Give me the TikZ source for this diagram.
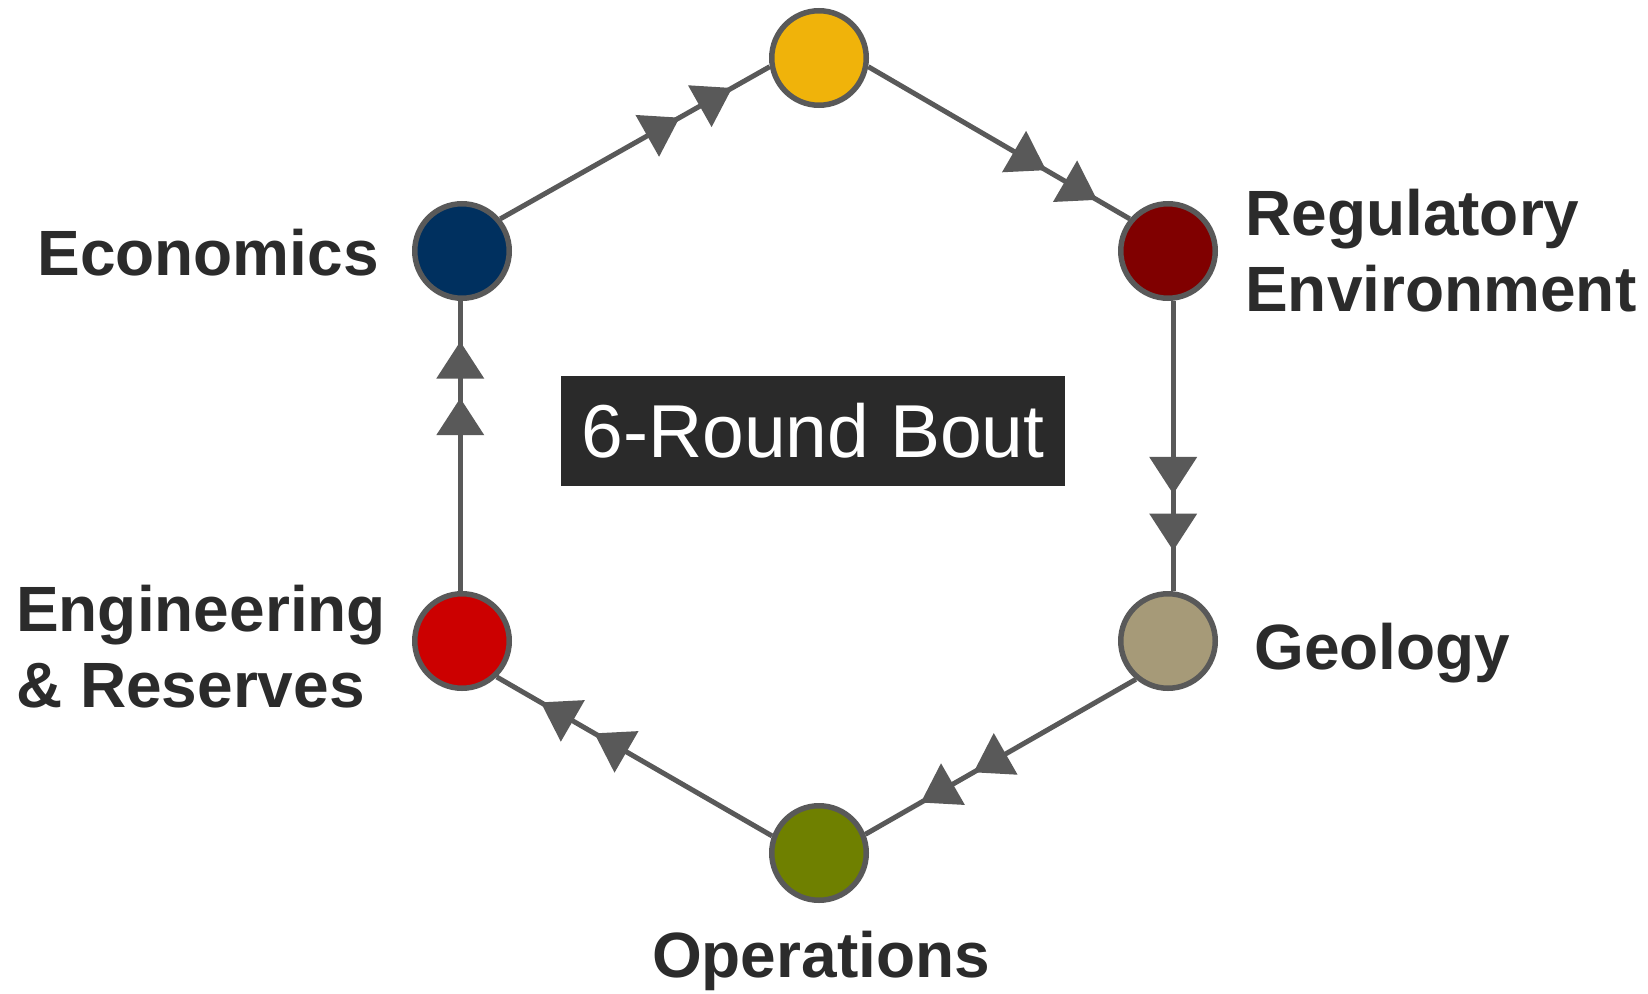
\documentclass[tikz,border=0pt]{standalone}
\usepackage{fontspec}
\setmainfont{Liberation Sans}
\usetikzlibrary{decorations.markings}
\definecolor{lg}{HTML}{595959}
\definecolor{txt}{HTML}{2B2B2B}
\definecolor{boxc}{HTML}{2A2A2A}
\definecolor{cyel}{HTML}{F0B30A}
\definecolor{cnavy}{HTML}{00305F}
\definecolor{cmaroon}{HTML}{800000}
\definecolor{cred}{HTML}{CC0000}
\definecolor{ctan}{HTML}{A69A78}
\definecolor{colive}{HTML}{6F8000}
\begin{document}
\begin{tikzpicture}[x=1pt,y=1pt,
  hub/.style={circle, draw=lg, line width=5.5pt, minimum size=94.5pt, inner sep=0pt},
  lab/.style={font=\bfseries\fontsize{64}{76}\selectfont, text=txt, inner sep=0pt},
  flow/.style 2 args={draw=lg, line width=5pt, postaction={decorate},
    decoration={markings,
      mark=at position #1 with {\fill[lg] (0pt,0pt) -- (-37pt,24pt) -- (-37pt,-24pt) -- cycle;},
      mark=at position #2 with {\fill[lg] (0pt,0pt) -- (-37pt,24pt) -- (-37pt,-24pt) -- cycle;}}}
]
\useasboundingbox (0,0) rectangle (1648,-993);
% circles
\node[hub, fill=cyel] (top) at (819,-58) {};
\node[hub, fill=cnavy] (econ) at (462,-251) {};
\node[hub, fill=cmaroon] (reg) at (1168,-251) {};
\node[hub, fill=cred] (eng) at (462,-641) {};
\node[hub, fill=ctan] (geo) at (1168,-641) {};
\node[hub, fill=colive] (ops) at (819,-853) {};
% connectors
\draw[flow={0.665}{0.86}] (econ.40) -- (top.190);
\draw[flow={0.68}{0.875}] (top.350) -- (reg.140);
\draw[flow={0.665}{0.86}] (reg.-84) -- (geo.84);
\draw[flow={0.6}{0.795}] (geo.230) -- (ops.22);
\draw[flow={0.645}{0.84}] (ops.160) -- (eng.-46);
\draw[flow={0.665}{0.86}] (eng.92) -- (econ.-92);
% centre box
\node[fill=boxc, text=white, font=\fontsize{75}{80}\selectfont, minimum width=504pt, minimum height=110pt, inner sep=0pt] (title) at (813,-431) {6-Round Bout};
% labels
\node[lab, anchor=base east] (leco) at (379,-275) {Economics};
\node[lab, anchor=base west, align=left] (lreg) at (1245,-311) {Regulatory\\Environment};
\node[lab, anchor=base west] (lgeo) at (1254,-669) {Geology};
\node[lab, anchor=base west, align=left] (leng) at (16,-707) {Engineering\\\& Reserves};
\node[lab, anchor=base] (lops) at (821,-977) {Operations};
\end{tikzpicture}
\end{document}
